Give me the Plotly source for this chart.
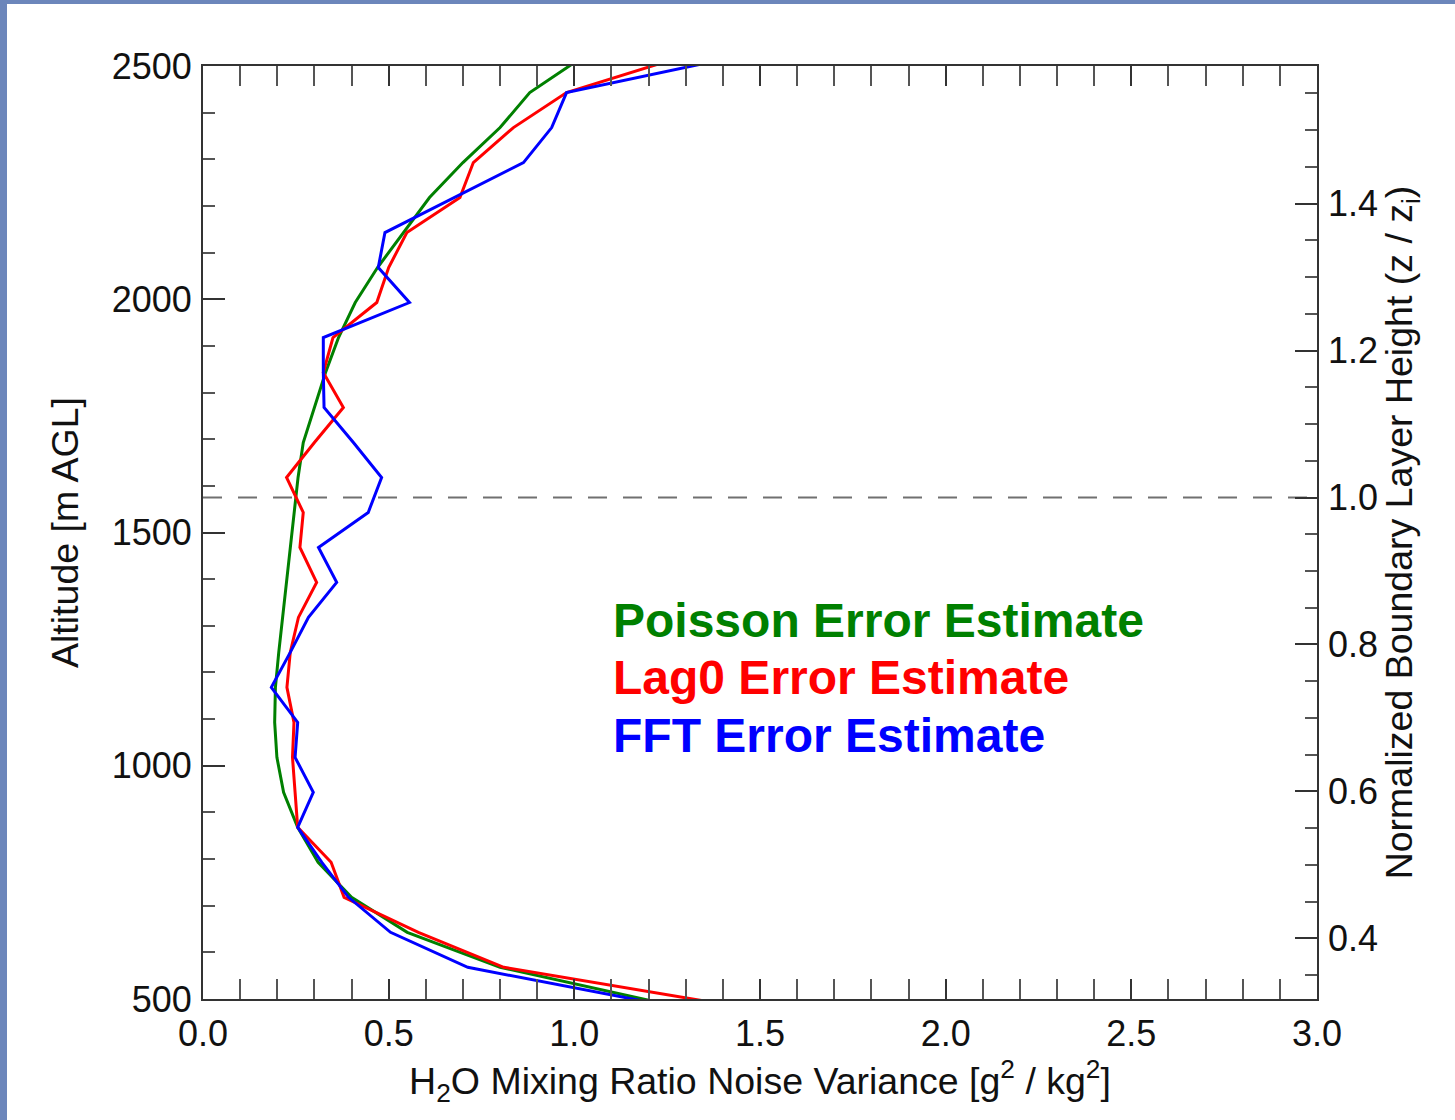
import plotly.graph_objects as go

# ---------------- data ----------------
altitude_m = [493, 568, 643, 718, 793, 868, 943, 1018, 1093, 1168, 1243, 1318, 1393, 1468,
              1543, 1618, 1693, 1768, 1843, 1918, 1993, 2068, 2143, 2218, 2293, 2368, 2443, 2518]

poisson_var = [1.225, 0.80, 0.55, 0.40, 0.31, 0.255, 0.217, 0.199, 0.193, 0.195, 0.204, 0.214,
               0.225, 0.236, 0.245, 0.256, 0.270, 0.300, 0.330, 0.365, 0.410, 0.470, 0.540,
               0.610, 0.700, 0.800, 0.880, 1.020]

lag0_var = [1.371, 0.81, 0.58, 0.38, 0.345, 0.255, 0.248, 0.241, 0.245, 0.226, 0.235, 0.257,
            0.306, 0.261, 0.270, 0.225, 0.300, 0.378, 0.324, 0.350, 0.468, 0.500, 0.549,
            0.692, 0.728, 0.836, 0.979, 1.282]

fft_var = [1.203, 0.713, 0.505, 0.392, 0.32, 0.255, 0.297, 0.248, 0.255, 0.184, 0.235, 0.284,
           0.360, 0.311, 0.445, 0.481, 0.405, 0.326, 0.324, 0.324, 0.556, 0.472, 0.490,
           0.676, 0.863, 0.939, 0.979, 1.424]

bl_height_m = 1575          # boundary layer height z_i
bl_norm = [1.0, 1.0]        # z / z_i at the boundary layer top
x_range = [0.0, 3.0]
y_range = [500, 2500]
x_ticks = [0.0, 0.5, 1.0, 1.5, 2.0, 2.5, 3.0]
y_ticks = [500, 1000, 1500, 2000, 2500]
y2_ticks = [0.4, 0.6, 0.8, 1.0, 1.2, 1.4]

series_names = ["Poisson Error Estimate", "Lag0 Error Estimate", "FFT Error Estimate"]
series_colors = ["#008000", "#ff0000", "#0000ff"]

# ---------------- figure ----------------
W, H = 1455, 1120
ML, MR, MT, MB = 203, 138, 66, 121
PW, PH = W - ML - MR, H - MT - MB

FONT = "Liberation Sans, Arial, Helvetica, sans-serif"
AX = "#333333"

fig = go.Figure()

for name, vals, col in zip(series_names, [poisson_var, lag0_var, fft_var], series_colors):
    fig.add_trace(go.Scatter(x=vals, y=altitude_m, mode="lines", name=name,
                             line=dict(color=col, width=3), showlegend=False))

# boundary-layer reference line on the normalized axis
fig.add_trace(go.Scatter(x=x_range, y=bl_norm, yaxis="y2", mode="lines",
                         line=dict(color="#707070", width=1.8, dash="19px,16px"),
                         showlegend=False, hoverinfo="skip"))

# text labels
for i, (name, col) in enumerate(zip(series_names, series_colors)):
    fig.add_annotation(x=(611 - ML) / PW, y=1 - (620 + 57.5 * i - MT) / PH,
                       xref="paper", yref="paper", text="<b>%s</b>" % name,
                       showarrow=False, xanchor="left", yanchor="middle",
                       font=dict(family=FONT, size=48, color=col))

tickfont = dict(family=FONT, size=36, color="#111111")
titlefont = dict(family=FONT, size=37.5, color="#111111")

fig.update_layout(
    width=W, height=H,
    margin=dict(l=ML, r=MR, t=MT, b=MB),
    paper_bgcolor="white", plot_bgcolor="white",
    xaxis=dict(range=x_range, tickvals=x_ticks, ticktext=["%.1f" % v for v in x_ticks],
               showgrid=False, zeroline=False, showline=True, linecolor=AX, linewidth=2,
               mirror="allticks", ticks="inside", ticklen=20, tickwidth=2, tickcolor=AX,
               minor=dict(dtick=0.1, ticks="inside", ticklen=10, tickwidth=2, tickcolor="#555555"),
               tickfont=tickfont, ticklabelstandoff=2,
               title=dict(text="H<sub>2</sub>O Mixing Ratio Noise Variance [g<sup>2</sup> / kg<sup>2</sup>]",
                          font=titlefont, standoff=0)),
    yaxis=dict(range=y_range, tickvals=y_ticks, showgrid=False, zeroline=False,
               showline=True, linecolor=AX, linewidth=2, mirror=True,
               ticks="inside", ticklen=22, tickwidth=2, tickcolor=AX,
               minor=dict(dtick=100, ticks="inside", ticklen=12, tickwidth=2, tickcolor="#555555"),
               tickfont=tickfont, ticklabelstandoff=2,
               title=dict(text="Altitude [m AGL]", font=titlefont, standoff=22)),
    yaxis2=dict(overlaying="y", side="right", anchor="x",
                range=[y_range[0] / bl_height_m, y_range[1] / bl_height_m],
                tickvals=y2_ticks, ticktext=["%.1f" % v for v in y2_ticks],
                showgrid=False, zeroline=False, showline=False,
                ticks="inside", ticklen=22, tickwidth=2, tickcolor=AX,
                minor=dict(dtick=0.05, ticks="inside", ticklen=12, tickwidth=2, tickcolor="#555555"),
                tickfont=tickfont, ticklabelstandoff=10,
                title=dict(text="Normalized Boundary Layer Height (z / z<sub>i</sub>)",
                           font=titlefont, standoff=8)),
    shapes=[
        dict(type="rect", xref="paper", yref="paper", layer="above",
             x0=(0 - ML) / PW, x1=(7 - ML) / PW, y0=-MB / PH, y1=1 + MT / PH,
             fillcolor="#6c86bb", line=dict(width=0)),
        dict(type="rect", xref="paper", yref="paper", layer="above",
             x0=(0 - ML) / PW, x1=1 + MR / PW, y0=1 + (MT - 4) / PH, y1=1 + MT / PH,
             fillcolor="#6c86bb", line=dict(width=0)),
    ],
)

fig.write_html("out.html", config={"displayModeBar": False},
               post_script="document.body.style.margin='0';")
